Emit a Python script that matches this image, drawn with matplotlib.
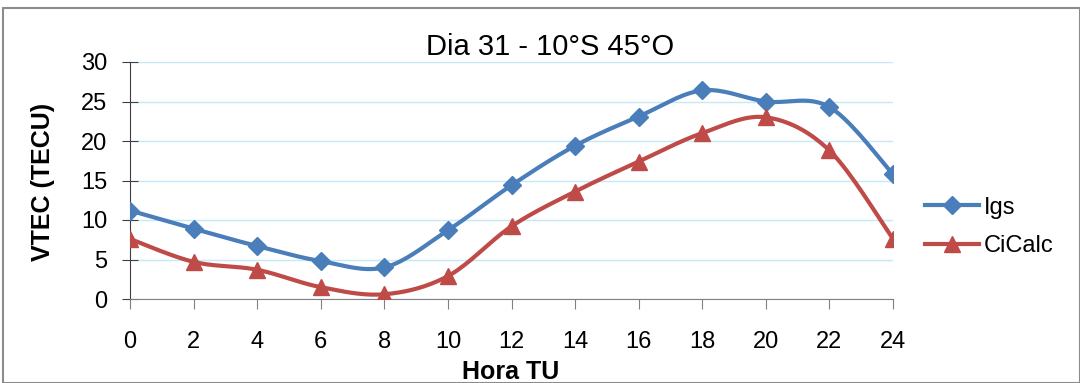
import matplotlib.pyplot as plt
import numpy as np
from matplotlib.patches import Rectangle

hours = [0, 2, 4, 6, 8, 10, 12, 14, 16, 18, 20, 22, 24]
igs = [11.2, 8.9, 6.7, 4.8, 4.0, 8.7, 14.4, 19.4, 23.1, 26.4, 25.0, 24.3, 15.8]
cicalc = [7.6, 4.7, 3.7, 1.5, 0.6, 2.9, 9.2, 13.6, 17.4, 21.0, 23.0, 18.8, 7.6]

plt.rcParams["font.family"] = ["Liberation Sans", "DejaVu Sans"]


def smooth(x, y, n=20):
    # Catmull-Rom style curve through the points, like Excel's smoothed line
    x = np.asarray(x, float)
    y = np.asarray(y, float)
    px = np.concatenate([[x[0]], x, [x[-1]]])
    py = np.concatenate([[y[0]], y, [y[-1]]])
    xs, ys = [], []
    t = np.linspace(0, 1, n)
    for i in range(1, len(px) - 2):
        p0, p1, p2, p3 = [np.array([px[j], py[j]]) for j in range(i - 1, i + 3)]
        c1 = p1 + (p2 - p0) / 6
        c2 = p2 - (p3 - p1) / 6
        b = ((1 - t) ** 3)[:, None] * p1 + (3 * (1 - t) ** 2 * t)[:, None] * c1 \
            + (3 * (1 - t) * t ** 2)[:, None] * c2 + (t ** 3)[:, None] * p2
        xs.extend(b[:, 0])
        ys.extend(b[:, 1])
    return xs, ys


W, H = 1080, 383
fig = plt.figure(figsize=(W / 100, H / 100), dpi=100)
ax = fig.add_axes([130 / W, 1 - 299 / H, (893 - 130) / W, (299 - 62) / H])

blue = "#4A7EBB"
red = "#BE4B48"

sx, sy = smooth(hours, igs)
ax.plot(sx, sy, color=blue, lw=3, zorder=3)
ax.plot(hours, igs, ls="none", marker="D", ms=9, color=blue, zorder=4)
sx, sy = smooth(hours, cicalc)
ax.plot(sx, sy, color=red, lw=3, zorder=3)
ax.plot(hours, cicalc, ls="none", marker="^", ms=11, color=red, zorder=4)

ax.plot([], [], color=blue, lw=3, marker="D", ms=9, label="Igs")
ax.plot([], [], color=red, lw=3, marker="^", ms=11, label="CiCalc")

ax.set_xlim(0, 24)
ax.set_ylim(0, 30)
ax.set_xticks(hours)
ax.set_yticks(range(0, 31, 5))
ax.yaxis.grid(True, color="#C6E9F5", lw=1)
ax.set_axisbelow(True)
for s in ["top", "right"]:
    ax.spines[s].set_visible(False)
ax.spines["left"].set_color("#404040")
ax.spines["bottom"].set_color("#808080")
ax.tick_params(axis="y", direction="inout", length=11, color="#404040", labelsize=17, pad=11)
ax.tick_params(axis="x", direction="out", length=7, color="#808080", labelsize=17, pad=16)

fig.text(550 / W, 1 - 47 / H, "Dia 31 - 10°S 45°O", fontsize=21, ha="center", va="center")
fig.text(43 / W, 1 - 182 / H, "VTEC (TECU)", fontsize=18, fontweight="bold",
         rotation=90, ha="center", va="center")
fig.text(511 / W, 1 - 372 / H, "Hora TU", fontsize=18, fontweight="bold", ha="center", va="center")

fig.legend(loc="center left", bbox_to_anchor=(925 / W, 1 - 227 / H), frameon=False,
           borderpad=0, borderaxespad=0, fontsize=17, handlelength=2.3,
           handletextpad=0.2, labelspacing=0.7)

fig.patches.append(Rectangle((3 / W, 0), 1 - 3 / W, 1 - 8 / H, transform=fig.transFigure,
                             fill=False, edgecolor="#8C8C8C", lw=1.5))

fig.savefig("out.png", dpi=100)
